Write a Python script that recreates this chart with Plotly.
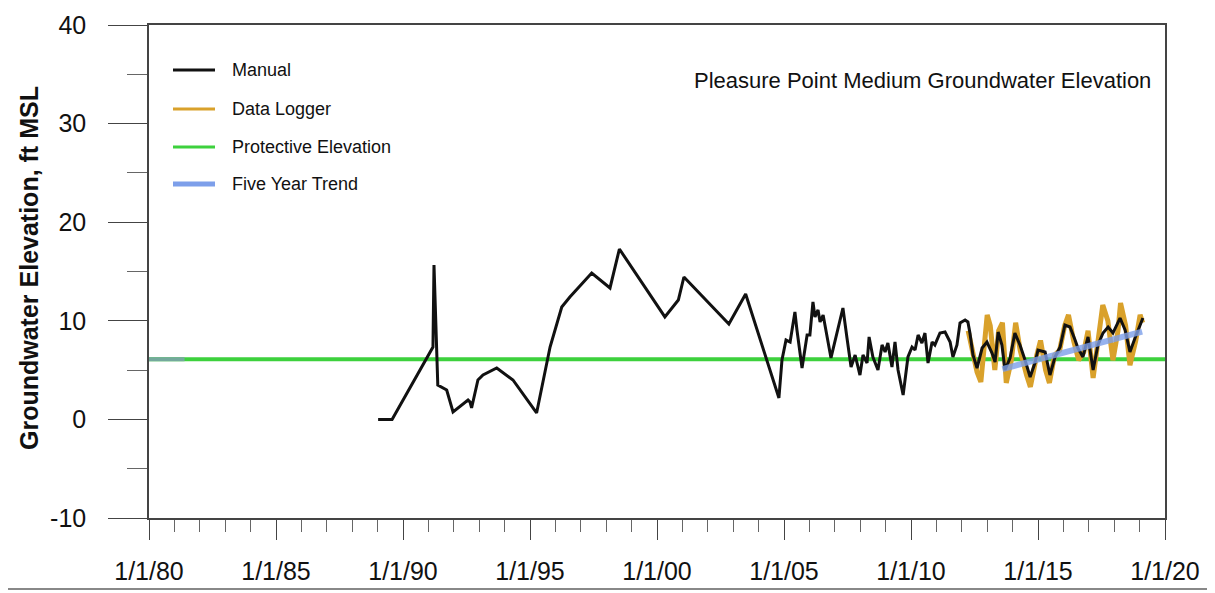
import plotly.graph_objects as go

# ---------------- data ----------------
manual_years = [1989.02, 1989.57, 1991.18, 1991.22, 1991.37, 1991.72, 1991.97, 1992.56, 1992.64, 1992.70,
                1992.95, 1993.15, 1993.69, 1994.33, 1995.26, 1995.79, 1996.25, 1996.57, 1997.43, 1998.15,
                1998.52, 2000.31, 2000.84, 2001.06, 2002.83, 2003.49, 2004.80, 2004.92, 2005.08, 2005.24,
                2005.43, 2005.51, 2005.71, 2005.91, 2006.02, 2006.14, 2006.22, 2006.34, 2006.42, 2006.54,
                2006.85, 2007.09, 2007.32, 2007.48, 2007.64, 2007.80, 2007.99, 2008.11, 2008.27, 2008.35,
                2008.50, 2008.70, 2008.86, 2008.98, 2009.09, 2009.25, 2009.37, 2009.49, 2009.69, 2009.88,
                2010.04, 2010.16, 2010.28, 2010.43, 2010.55, 2010.67, 2010.83, 2010.94, 2011.14, 2011.34,
                2011.54, 2011.65, 2011.81, 2011.93, 2012.13, 2012.24, 2012.32, 2012.44, 2012.60, 2012.80,
                2012.99, 2013.19, 2013.31, 2013.43, 2013.58, 2013.70, 2013.90, 2014.09, 2014.29, 2014.49,
                2014.69, 2014.88, 2015.00, 2015.28, 2015.47, 2015.67, 2015.87, 2016.06, 2016.26, 2016.46,
                2016.57, 2016.77, 2016.97, 2017.17, 2017.36, 2017.56, 2017.76, 2017.95, 2018.23, 2018.43,
                2018.62, 2018.82, 2019.02, 2019.13]
manual_values = [0.0, 0.0, 7.34, 15.66, 3.49, 2.98, 0.75, 1.97, 1.76, 1.16,
                 4.0, 4.5, 5.21, 4.0, 0.65, 7.34, 11.4, 12.41, 14.85, 13.33,
                 17.28, 10.39, 12.11, 14.44, 9.68, 12.72, 2.17, 6.02, 8.05, 7.85,
                 10.89, 9.07, 5.21, 8.56, 8.56, 11.91, 10.39, 11.1, 9.88, 10.59,
                 6.23, 8.76, 11.3, 8.26, 5.31, 6.53, 4.5, 6.53, 5.72, 8.36,
                 6.33, 5.01, 7.55, 6.84, 7.75, 5.31, 7.85, 5.01, 2.47, 6.33,
                 7.34, 7.04, 8.56, 7.75, 8.76, 5.72, 7.85, 7.55, 8.76, 8.86,
                 7.85, 6.33, 7.55, 9.78, 10.08, 9.88, 8.76, 6.53, 5.21, 7.24,
                 7.85, 6.73, 5.82, 8.86, 7.55, 5.01, 6.23, 8.76, 7.55, 6.02,
                 4.3, 5.72, 7.04, 6.84, 4.5, 6.33, 7.34, 9.57, 9.37, 8.05,
                 7.24, 6.33, 8.36, 5.01, 7.55, 8.76, 9.37, 8.76, 10.28, 9.07,
                 6.84, 8.26, 9.57, 10.28]

logger_years = [2012.25, 2012.45, 2012.60, 2012.75, 2012.88, 2013.00, 2013.12, 2013.30, 2013.45, 2013.60,
                2013.75, 2013.95, 2014.12, 2014.30, 2014.55, 2014.70, 2014.95, 2015.10, 2015.30, 2015.45,
                2015.65, 2015.85, 2016.05, 2016.20, 2016.40, 2016.60, 2016.80, 2016.97, 2017.17, 2017.35,
                2017.55, 2017.75, 2017.95, 2018.15, 2018.25, 2018.45, 2018.62, 2018.85, 2019.02, 2019.12]
logger_values = [9.0, 6.5, 4.8, 3.8, 7.0, 10.6, 9.5, 5.0, 9.0, 9.8,
                 3.7, 6.0, 9.8, 7.0, 4.5, 3.3, 6.5, 8.0, 5.0, 3.7,
                 6.5, 7.0, 9.5, 10.6, 8.0, 6.0, 6.8, 9.0, 4.2, 7.5,
                 11.6, 10.0, 6.0, 9.0, 11.8, 9.5, 5.5, 8.0, 10.6, 9.8]

protective_years = [1980, 2020]
protective_values = [6.1, 6.1]
protective_left_years = [1980, 1981.4]
protective_left_values = [6.1, 6.1]

trend_years = [2013.6, 2019.1]
trend_values = [5.1, 8.9]

x_tick_vals = [1980, 1985, 1990, 1995, 2000, 2005, 2010, 2015, 2020]
x_tick_text = ["1/1/80", "1/1/85", "1/1/90", "1/1/95", "1/1/00", "1/1/05", "1/1/10", "1/1/15", "1/1/20"]
y_tick_vals = [-10, 0, 10, 20, 30, 40]
y_tick_text = ["-10", "0", "10", "20", "30", "40"]

legend_names = ["Manual", "Data Logger", "Protective Elevation", "Five Year Trend"]
legend_colors = ["#111111", "#D9A12B", "#3DD13D", "#7D9FEA"]

title_text = "Pleasure Point Medium Groundwater Elevation"
y_title = "Groundwater Elevation, ft MSL"

# ---------------- figure ----------------
# page has an 8px body margin; compensate so the plot area lands at [149,1165] x [25,518]
OFF = 8
W, H = 1215 - OFF, 593 - OFF
PL, PR, PT, PB = 149, 1165, 25, 518   # plot area in page pixels
L, R, T, B = PL - OFF, W - (PR - OFF), PT - OFF, H - (PB - OFF)

def px_x(p):
    return (p - PL) / (PR - PL)

def px_y(p):
    return (PB - p) / (PB - PT)

fig = go.Figure()
fig.add_trace(go.Scatter(x=protective_years, y=protective_values, mode="lines", name=legend_names[2],
                         line=dict(color=legend_colors[2], width=4), showlegend=False))
fig.add_trace(go.Scatter(x=protective_left_years, y=protective_left_values, mode="lines",
                         line=dict(color="#74A99C", width=4), showlegend=False))
fig.add_trace(go.Scatter(x=logger_years, y=logger_values, mode="lines", name=legend_names[1],
                         line=dict(color=legend_colors[1], width=5), showlegend=False))
fig.add_trace(go.Scatter(x=manual_years, y=manual_values, mode="lines", name=legend_names[0],
                         line=dict(color=legend_colors[0], width=3), showlegend=False))
fig.add_trace(go.Scatter(x=trend_years, y=trend_values, mode="lines", name=legend_names[3],
                         line=dict(color=legend_colors[3], width=6), opacity=0.8, showlegend=False))

regular = "Liberation Sans, Arial, sans-serif"

shapes = []
annotations = []
row_y = [70, 109, 147, 184]
for name, col, ry in zip(legend_names, legend_colors, row_y):
    shapes.append(dict(type="line", xref="paper", yref="paper", x0=px_x(173), x1=px_x(215),
                       y0=px_y(ry), y1=px_y(ry), line=dict(color=col, width=3 if col != "#7D9FEA" else 5)))
    annotations.append(dict(text=name, xref="paper", yref="paper", x=px_x(230), y=px_y(ry),
                            xanchor="left", yanchor="middle", showarrow=False,
                            font=dict(family=regular, size=18, color="#111")))

annotations.append(dict(text=title_text, xref="paper", yref="paper", x=px_x(1153), y=px_y(80),
                        xanchor="right", yanchor="middle", showarrow=False,
                        font=dict(family=regular, size=22, color="#111")))
annotations.append(dict(text="<b>" + y_title + "</b>", xref="paper", yref="paper", x=px_x(29), y=px_y(268),
                        xanchor="center", yanchor="middle", textangle=-90, showarrow=False,
                        font=dict(family=regular, size=25, color="#111")))

shapes.append(dict(type="line", xref="paper", yref="paper", x0=px_x(0), x1=px_x(1215),
                   y0=px_y(589), y1=px_y(589), line=dict(color="#888", width=2)))

fig.update_layout(
    width=W, height=H,
    margin=dict(l=L, r=R, t=T, b=B, autoexpand=False),
    paper_bgcolor="white", plot_bgcolor="white",
    shapes=shapes, annotations=annotations,
    xaxis=dict(range=[1980, 2020], tickvals=x_tick_vals, ticktext=x_tick_text, automargin=False,
               showgrid=False, zeroline=False, showline=True, linecolor="#444", linewidth=1.5,
               mirror=True, ticks="outside", ticklen=20, tickcolor="#444", tickwidth=1.2,
               ticklabelstandoff=10,
               tickfont=dict(family=regular, size=25, color="#111"),
               minor=dict(dtick=1, tick0=1980, ticks="outside", ticklen=12, tickcolor="#666", tickwidth=1, showgrid=False)),
    yaxis=dict(range=[-10, 40], tickvals=y_tick_vals, ticktext=y_tick_text, automargin=False,
               showgrid=False, zeroline=False, showline=True, linecolor="#444", linewidth=1.5,
               mirror=True, ticks="outside", ticklen=39, tickcolor="#444", tickwidth=1.2,
               ticklabelstandoff=17,
               tickfont=dict(family=regular, size=25, color="#111"),
               minor=dict(dtick=5, tick0=0, ticks="outside", ticklen=20, tickcolor="#666", tickwidth=1, showgrid=False)),
)

fig.write_html("out.html")
